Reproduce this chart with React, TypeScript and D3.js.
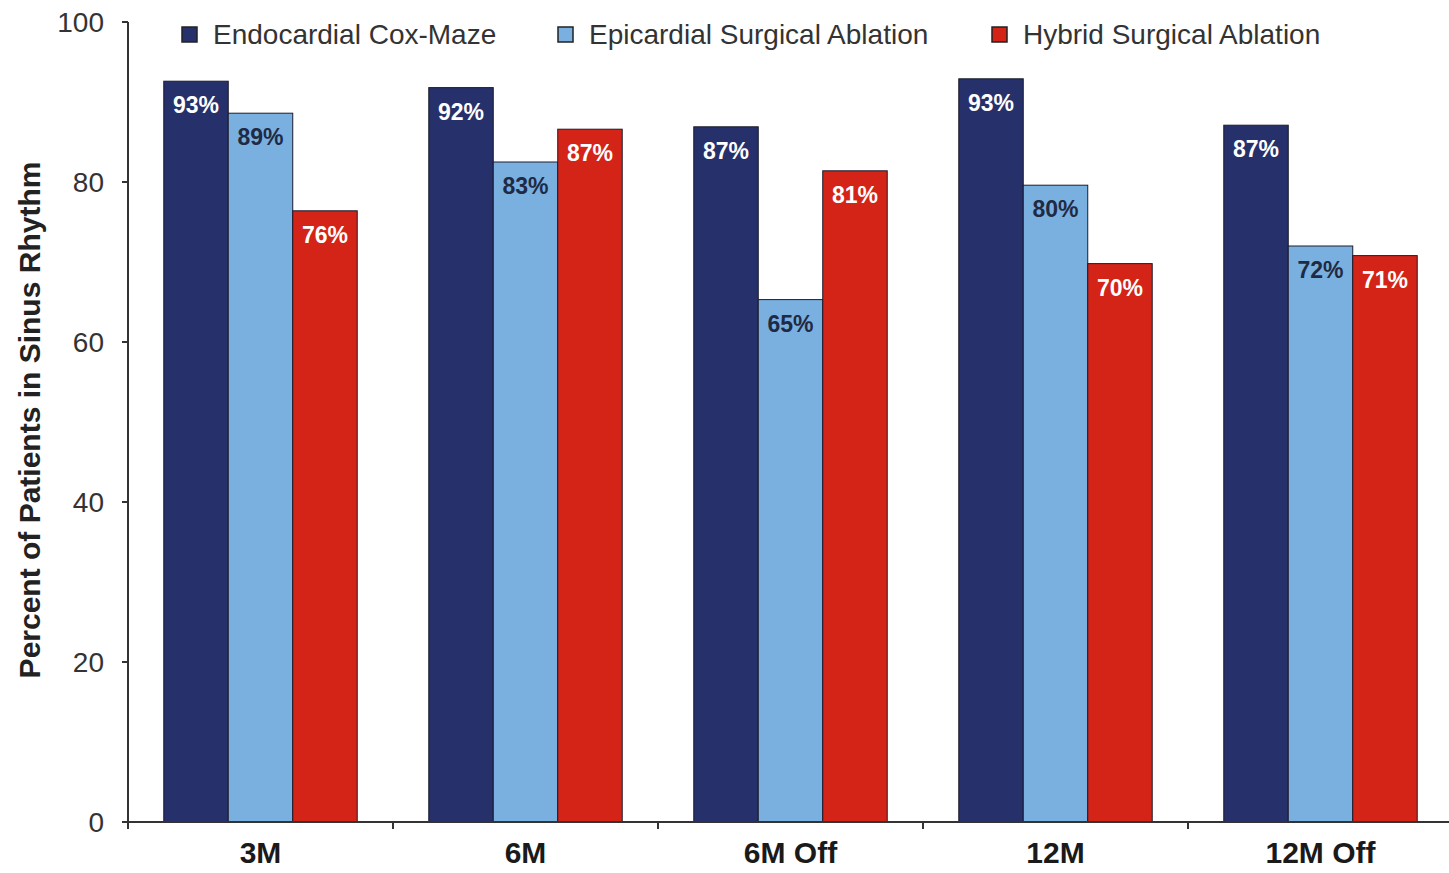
import React from "react";
import * as d3 from "d3";

const categories = ["3M", "6M", "6M Off", "12M", "12M Off"];
const seriesNames = ["Endocardial Cox-Maze", "Epicardial Surgical Ablation", "Hybrid Surgical Ablation"];
const endocardial = [92.6, 91.8, 86.9, 92.9, 87.1];
const epicardial = [88.6, 82.5, 65.3, 79.6, 72.0];
const hybrid = [76.4, 86.6, 81.4, 69.8, 70.8];
const valueLabels = [
  ["93%", "92%", "87%", "93%", "87%"],
  ["89%", "83%", "65%", "80%", "72%"],
  ["76%", "87%", "81%", "70%", "71%"],
];
const yTicks = [0, 20, 40, 60, 80, 100];
const colors = ["#26306b", "#7ab0e0", "#d42317"];
const labelColors = ["#ffffff", "#1f2a44", "#ffffff"];

const W = 1449;
const H = 873;

export default function App() {
  const series = [endocardial, epicardial, hybrid];
  const x = d3.scaleBand<string>().domain(categories).range([128, 1453]).paddingInner(0.27).paddingOuter(0.135);
  const x1 = d3.scaleBand<number>().domain([0, 1, 2]).range([0, x.bandwidth()]);
  const y = d3.scaleLinear().domain([0, 100]).range([822, 22]);
  const step = x.step();
  const boundaries = categories.map((_, i) => 128 + i * step);

  const legendX = [182, 558, 992];

  return (
    <svg width={W} height={H} style={{ position: "absolute", left: 0, top: 0, background: "#fff" }}
      fontFamily="'Liberation Sans', Arial, sans-serif">
      {/* bars */}
      {categories.map((c, i) => (
        <g key={c} transform={`translate(${x(c)},0)`}>
          {series.map((s, j) => (
            <g key={j}>
              <rect x={x1(j)} y={y(s[i])} width={x1.bandwidth()} height={y(0) - y(s[i])}
                fill={colors[j]} stroke="#1c1c2c" strokeWidth={1} />
              <text x={(x1(j) as number) + x1.bandwidth() / 2} y={y(s[i]) + 32} textAnchor="middle"
                fontWeight="bold" fontSize={23} fill={labelColors[j]}>{valueLabels[j][i]}</text>
            </g>
          ))}
        </g>
      ))}
      {/* y axis */}
      <line x1={128} x2={128} y1={y(100)} y2={y(0)} stroke="#333" strokeWidth={2} />
      {yTicks.map((t) => (
        <g key={t}>
          <line x1={122} x2={128} y1={y(t)} y2={y(t)} stroke="#333" strokeWidth={2} />
          <text x={104} y={y(t)} dy="0.35em" textAnchor="end" fontSize={28} fill="#333">{t}</text>
        </g>
      ))}
      {/* x axis */}
      <line x1={122} x2={W} y1={y(0)} y2={y(0)} stroke="#333" strokeWidth={2} />
      {boundaries.map((b, i) => (
        <line key={i} x1={b} x2={b} y1={y(0)} y2={y(0) + 7} stroke="#333" strokeWidth={2} />
      ))}
      {categories.map((c) => (
        <text key={c} x={(x(c) as number) + x.bandwidth() / 2} y={863} textAnchor="middle"
          fontWeight="bold" fontSize={30} fill="#1a1a1a">{c}</text>
      ))}
      {/* y label */}
      <text transform={`translate(40,420) rotate(-90)`} textAnchor="middle" fontWeight="bold"
        fontSize={30} fill="#222">Percent of Patients in Sinus Rhythm</text>
      {/* legend */}
      {seriesNames.map((n, j) => (
        <g key={n}>
          <rect x={legendX[j]} y={27} width={15} height={15} fill={colors[j]} stroke="#222" strokeWidth={1.5} />
          <text x={legendX[j] + 31} y={44} fontSize={28} fill="#333">{n}</text>
        </g>
      ))}
    </svg>
  );
}
